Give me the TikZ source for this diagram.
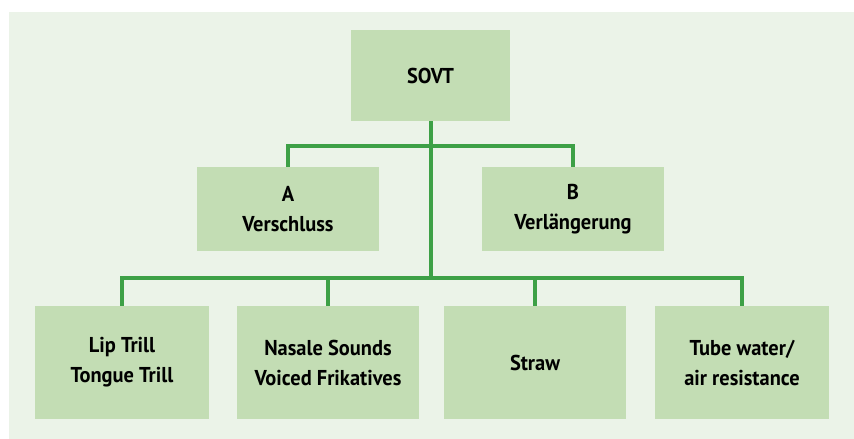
\documentclass[tikz,border=0pt]{standalone}
\usepackage{fontspec}
\setmainfont[FakeStretch=0.95]{PT Sans}
\usetikzlibrary{calc}

\definecolor{panelgreen}{HTML}{EBF3E8}
\definecolor{boxgreen}{HTML}{C3DDB4}
\definecolor{linegreen}{HTML}{3DA046}

\begin{document}
\begin{tikzpicture}[
        x=1pt, y=-1pt,
        box/.style={fill=boxgreen, inner sep=0pt, align=center,
            font=\fontsize{21.5}{30}\selectfont\bfseries},
        link/.style={draw=linegreen, line width=4pt},
    ]

        % Panel behind the chart
        \useasboundingbox (0,0) rectangle (854,439);
        \fill[panelgreen] (9,12) rectangle (854,439);

        % Top node
        \node[box, minimum width=159pt, minimum height=91pt] (sovt) at (430.5,75.5) {SOVT};

        % Middle row
        \node[box, minimum width=182pt, minimum height=84pt] (a) at (288,209) {A\\Verschluss};
        \node[box, minimum width=182pt, minimum height=84pt] (b) at (573,209) {B\\Verlängerung};

        % Bottom row
        \foreach \name / \x / \w / \txt in {
                1/122/174/{Lip Trill\\Tongue Trill},
                2/328/182/{Nasale Sounds\\Voiced Frikatives},
                3/535/182/{Straw},
                4/742/174/{Tube water/\\air resistance}}
            \node[box, minimum width=\w pt, minimum height=113pt] (low-\name) at (\x,362.5) {\txt};

        % Bus lines
        \coordinate (top-bus) at (430.5,146);
        \coordinate (low-bus) at (430.5,278);

        \draw[link] (sovt.south) -- (low-bus);
        \draw[link] (a.north) |- (top-bus) -| (b.north);
        \draw[link] (low-1.north) |- (low-bus) -| (low-4.north);
        \foreach \name in {2,3}
            \draw[link] (low-\name.north) -- (low-\name.north |- low-bus);
    \end{tikzpicture}
\end{document}
